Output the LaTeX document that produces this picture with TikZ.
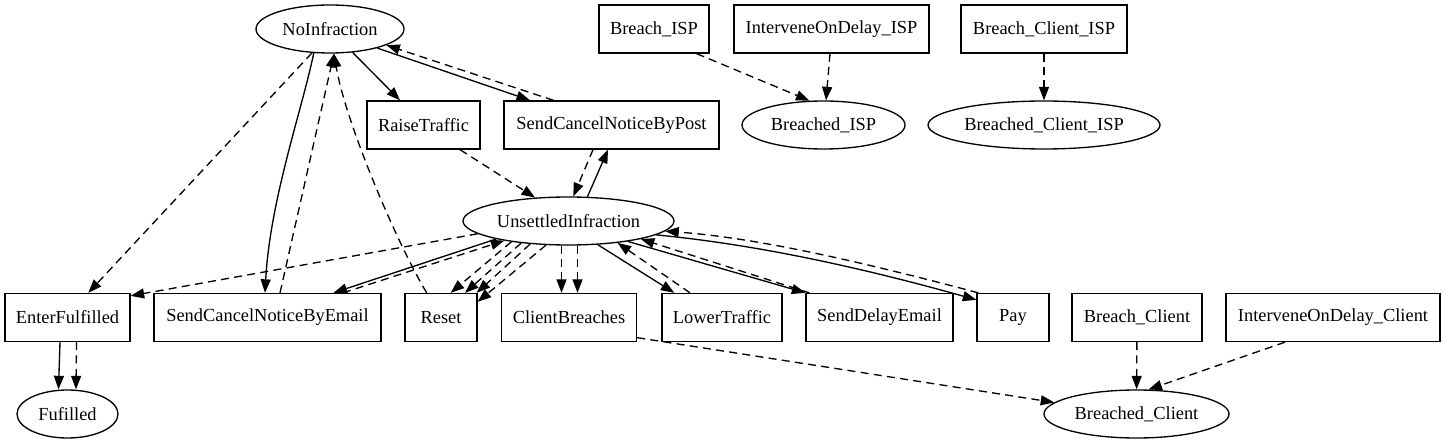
\documentclass[tikz,border=0pt]{standalone}
\usepackage{fontspec}
\setmainfont{Liberation Serif}
\usetikzlibrary{arrows.meta,shapes.geometric}
\begin{document}
\begin{tikzpicture}[x=1bp,y=1bp,
  every node/.style={font=\fontsize{18.4bp}{22bp}\selectfont, inner sep=0pt, line width=1.33bp},
  box/.style={draw, rectangle, minimum height=48bp},
  ell/.style={draw, ellipse, minimum height=48bp},
  sol/.style={line width=1.33bp, -{Triangle[length=13.5bp,width=10bp]}},
  dsh/.style={sol, dash pattern=on 8bp off 5.3bp},
]
\useasboundingbox (0,0) rectangle (1446,-443);
% nodes
\node[ell, minimum width=148bp] (NoInf) at (330,-29) {NoInfraction};
\node[box, minimum width=113bp] (RaiseTraffic) at (423.5,-125) {RaiseTraffic};
\node[box, minimum width=215bp] (SCNBPost) at (611.5,-125) {SendCancelNoticeByPost};
\node[box, minimum width=110bp] (BreachISP) at (654,-29) {Breach\_ISP};
\node[box, minimum width=195bp] (IODISP) at (831.5,-29) {InterveneOnDelay\_ISP};
\node[ell, minimum width=163bp] (BreachedISP) at (823.5,-125) {Breached\_ISP};
\node[box, minimum width=166bp] (BreachClientISP) at (1044,-29) {Breach\_Client\_ISP};
\node[ell, minimum width=232bp] (BreachedClientISP) at (1044,-125) {Breached\_Client\_ISP};
\node[ell, minimum width=211bp] (Unsettled) at (568.5,-221) {UnsettledInfraction};
\node[box, minimum width=125bp] (EnterFulfilled) at (67.5,-317.5) {EnterFulfilled};
\node[box, minimum width=227bp] (SCNBEmail) at (267.5,-317.5) {SendCancelNoticeByEmail};
\node[box, minimum width=72bp] (Reset) at (441,-317.5) {Reset};
\node[box, minimum width=135bp] (ClientBreaches) at (569,-317.5) {ClientBreaches};
\node[box, minimum width=120bp] (LowerTraffic) at (722,-317.5) {LowerTraffic};
\node[box, minimum width=147bp] (SDE) at (879.5,-317.5) {SendDelayEmail};
\node[box, minimum width=72bp] (Pay) at (1013,-317.5) {Pay};
\node[box, minimum width=130bp] (BreachClient) at (1137,-317.5) {Breach\_Client};
\node[box, minimum width=214bp] (IODClient) at (1333,-317.5) {InterveneOnDelay\_Client};
\node[ell, minimum width=101bp] (Fufilled) at (67.5,-414) {Fufilled};
\node[ell, minimum width=185bp] (BreachedClient) at (1136.5,-414) {Breached\_Client};
% edges from NoInfraction
\draw[sol] (NoInf.-46.5) -- ([xshift=-23.5bp]RaiseTraffic.north);
\draw[sol] (NoInf.-22) -- ([xshift=-81.5bp]SCNBPost.north);
\draw[dsh] ([xshift=-58bp]SCNBPost.north) -- (NoInf.-16);
\draw[dsh] (NoInf.-127.7) -- ([xshift=20.8bp]EnterFulfilled.north);
\draw[sol] (NoInf.-124.4) .. controls (302,-110) and (270,-200) .. ([xshift=-2.5bp]SCNBEmail.north);
\draw[dsh] ([xshift=12.5bp]SCNBEmail.north) -- ([xshift=4bp]NoInf.south);
\draw[dsh] ([xshift=-14.3bp]Reset.north) .. controls (395,-240) and (345,-120) .. ([xshift=4bp]NoInf.south);
% into UnsettledInfraction from above
\draw[dsh] ([xshift=36.5bp]RaiseTraffic.south) -- (Unsettled.145.5);
\draw[dsh] ([xshift=-18.5bp]SCNBPost.south) -- (Unsettled.79);
\draw[sol] (Unsettled.52) -- ([xshift=-3.5bp]SCNBPost.south);
% from UnsettledInfraction downwards
\draw[dsh] (Unsettled.-172.5) -- ([yshift=-3bp]EnterFulfilled.north east);
\draw[sol] (Unsettled.-166) -- ([xshift=66bp]SCNBEmail.north);
\draw[dsh] ([xshift=75.5bp]SCNBEmail.north) -- (Unsettled.-163);
\draw[dsh] (Unsettled.-160.2) -- ([xshift=9.7bp]Reset.north);
\draw[dsh] (Unsettled.-155.7) -- ([xshift=24bp]Reset.north);
\draw[dsh] (Unsettled.-149.1) -- ([xshift=-1bp]Reset.north east);
\draw[dsh] (Unsettled.-133.9) -- ([yshift=-9bp]Reset.north east);
\draw[dsh] ([xshift=-7bp]Unsettled.south) -- ([xshift=-7.5bp]ClientBreaches.north);
\draw[dsh] ([xshift=9bp]Unsettled.south) -- ([xshift=8.5bp]ClientBreaches.north);
\draw[sol] (Unsettled.-39.3) -- ([xshift=-47.7bp]LowerTraffic.north);
\draw[dsh] ([xshift=-32bp]LowerTraffic.north) -- (Unsettled.-24.8);
\draw[sol] (Unsettled.-19) -- (SDE.north west);
\draw[dsh] ([xshift=4bp]SDE.north west) -- (Unsettled.-14.5);
\draw[sol] (Unsettled.-9) .. controls (762,-245) and (870,-270) .. ([yshift=-7bp]Pay.north west);
\draw[dsh] ([xshift=2bp]Pay.north west) .. controls (870,-264) and (760,-238) .. (Unsettled.-6);
% breaches
\draw[dsh] ([yshift=4.5bp]ClientBreaches.south east) -- (BreachedClient.172.4);
\draw[dsh] (BreachClient) -- (BreachedClient);
\draw[dsh] ([xshift=-48bp]IODClient.south) -- (BreachedClient.64);
\draw[dsh] ([xshift=42.7bp]BreachISP.south) -- (BreachedISP.120.2);
\draw[dsh] ([xshift=-1.5bp]IODISP.south) -- ([xshift=2.5bp]BreachedISP.north);
\draw[dsh] (BreachClientISP) -- (BreachedClientISP);
% fulfilled
\draw[sol] ([xshift=-7.5bp]EnterFulfilled.south) -- ([xshift=-9bp]Fufilled.north);
\draw[dsh] ([xshift=9bp]EnterFulfilled.south) -- ([xshift=8.5bp]Fufilled.north);
\end{tikzpicture}
\end{document}
